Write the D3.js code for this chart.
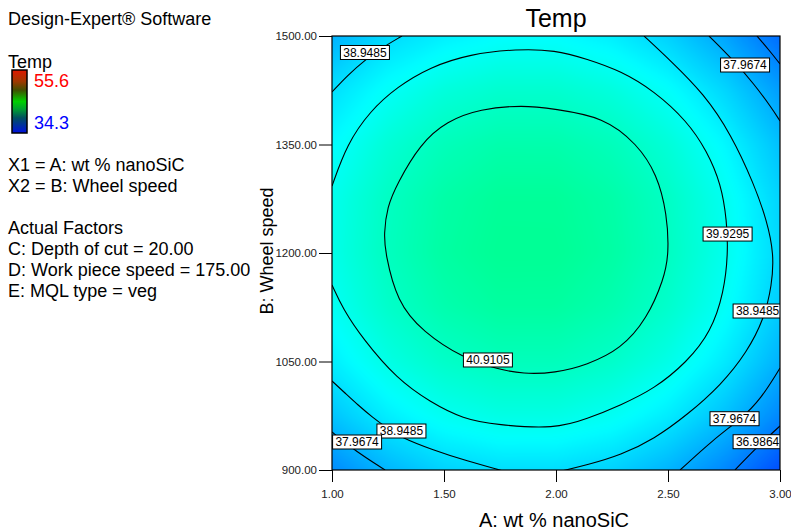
<!DOCTYPE html>
<html>
<head>
<meta charset="utf-8">
<script src="https://cdn.jsdelivr.net/npm/d3@7"></script>
<style>
  body { margin: 0; background: #fff; }
  svg text { font-family: "Liberation Sans", Arial, sans-serif; }
</style>
</head>
<body>
<svg id="chart" width="791" height="530"></svg>
<script>
// factor grid: A = wt % nanoSiC (columns), B = wheel speed (rows, top to bottom)
let gridA = [1.00, 1.25, 1.50, 1.75, 2.00, 2.25, 2.50, 2.75, 3.00];
let gridB = [1500, 1425, 1350, 1275, 1200, 1125, 1050, 975, 900];

let tempGrid = [
  [38.00, 38.85, 39.30, 39.60, 39.59, 39.28, 38.67, 37.76, 36.55],
  [38.97, 39.75, 40.35, 40.64, 40.63, 40.32, 39.71, 38.80, 37.59],
  [39.58, 40.48, 41.07, 41.36, 41.35, 41.05, 40.44, 39.53, 38.32],
  [39.99, 40.88, 41.47, 41.76, 41.76, 41.45, 40.84, 39.93, 38.72],
  [40.07, 40.96, 41.56, 41.85, 41.84, 41.53, 40.92, 40.01, 38.80],
  [39.83, 40.73, 41.32, 41.61, 41.60, 41.29, 40.69, 39.78, 38.57],
  [39.28, 40.17, 40.76, 41.05, 41.05, 40.74, 40.13, 39.22, 38.01],
  [38.40, 39.29, 39.89, 40.18, 40.17, 39.86, 39.25, 38.35, 37.14],
  [37.21, 38.10, 38.69, 38.92, 38.92, 38.67, 38.06, 37.15, 35.94]
];

let tempMin = 34.3, tempMax = 55.6;
let levels = [36.9864, 37.9674, 38.9485, 39.9295, 40.9105];

// contour lines, points as [A, B]
let line40_9105 = [[1.232,1226.3],[1.246,1263.6],[1.290,1295.4],[1.393,1350.7],[1.513,1382.5],[1.661,1399.1],
  [1.853,1404.6],[1.991,1399.1],[2.214,1388.0],[2.362,1350.7],[2.451,1309.2],[2.496,1253.9],[2.504,1198.6],
  [2.482,1164.1],[2.406,1108.8],[2.290,1067.3],[2.138,1045.2],[1.996,1034.1],[1.853,1032.7],[1.737,1039.6],
  [1.585,1054.8],[1.406,1090.8],[1.290,1132.3],[1.237,1201.4]];
let line39_9295 = [[1.000,1292.6],[1.067,1350.7],[1.170,1396.3],[1.290,1429.5],[1.438,1457.1],[1.616,1475.1],
  [1.826,1482.0],[1.996,1480.6],[2.138,1468.2],[2.290,1451.6],[2.438,1424.0],[2.585,1382.5],[2.674,1341.0],
  [2.737,1295.4],[2.763,1244.2],[2.768,1198.6],[2.750,1146.1],[2.692,1090.8],[2.585,1049.3],[2.438,1012.0],
  [2.290,989.9],[2.138,970.5],[1.996,956.7],[1.737,962.2],[1.585,970.5],[1.438,994.0],[1.290,1025.8],
  [1.138,1081.1],[1.049,1122.6],[1.000,1155.8]];
let line38_9485a = [[1.000,1422.6],[1.071,1446.1],[1.147,1466.8],[1.228,1484.8],[1.3125,1500]];
let line38_9485b = [[1.000,1023.0],[1.058,1006.5],[1.116,989.9],[1.179,973.3],[1.246,958.1],[1.304,945.6],
  [1.451,927.6],[1.603,912.4],[1.760,899]];
let line38_9485c = [[2.393,1500],[2.513,1465.4],[2.661,1419.8],[2.781,1364.5],[2.884,1295.4],[2.942,1244.2],
  [2.973,1198.6],[2.964,1155.8],[2.929,1108.8],[2.853,1063.1],[2.737,1017.5],[2.585,976.0],[2.438,942.9],
  [2.290,920.7],[2.138,906.9],[2.030,899]];
let line37_9674a = [[1.000,952.5],[1.071,934.6],[1.152,916.6],[1.237,900]];
let line37_9674b = [[2.683,1500],[2.795,1465.4],[2.884,1433.6],[2.960,1401.8],[3.000,1382.5]];
let line37_9674c = [[3.000,1041.0],[2.915,998.2],[2.826,970.5],[2.705,942.9],[2.554,900]];
let line36_9864a = [[2.897,1500],[2.951,1480.6],[3.000,1461.3]];
let line36_9864b = [[3.000,960.8],[2.897,931.8],[2.799,900]];

// contour labels: [level, A, B]
let labelPoints = [
  [38.9485, 1.147, 1477.2], [37.9674, 2.844, 1459.9], [39.9295, 2.766, 1226.2],
  [38.9485, 2.900, 1119.8], [40.9105, 1.696, 1052.1], [38.9485, 1.310, 953.9],
  [37.9674, 1.112, 938.7], [37.9674, 2.797, 970.9], [36.9864, 2.900, 939.1]
];

let ticksA = [1.00, 1.50, 2.00, 2.50, 3.00];
let ticksB = [900, 1050, 1200, 1350, 1500];

let infoLines = ["X1 = A: wt % nanoSiC", "X2 = B: Wheel speed", "",
  "Actual Factors", "C: Depth of cut = 20.00", "D: Work piece speed = 175.00", "E: MQL type = veg"];

let svg = d3.select("#chart");

let x = d3.scaleLinear().domain([1, 3]).range([332, 780]);
let y = d3.scaleLinear().domain([900, 1500]).range([470, 36]);
let idxA = d3.scaleLinear().domain([0, gridA.length - 1]).range([gridA[0], gridA[gridA.length - 1]]);
let idxB = d3.scaleLinear().domain([0, gridB.length - 1]).range([gridB[0], gridB[gridB.length - 1]]);

let span = (tempMax - tempMin) / 4;
let color = d3.scaleLinear()
  .domain([tempMin, tempMin + span, tempMin + 2 * span, tempMin + 3 * span, tempMax])
  .range(["#0000ff", "#00ffff", "#00ff00", "#ffff00", "#ff0000"]);

let defs = svg.append("defs");
defs.append("clipPath").attr("id", "plotClip")
  .append("rect")
  .attr("x", x(1)).attr("y", y(1500))
  .attr("width", x(3) - x(1)).attr("height", y(900) - y(1500));
defs.append("filter").attr("id", "soften")
  .attr("x", "-10%").attr("y", "-10%").attr("width", "120%").attr("height", "120%")
  .append("feGaussianBlur").attr("stdDeviation", 4);

// shaded response surface
let thresholds = d3.range(35.6, 42.0, 0.05);
let bands = d3.contours()
  .size([gridA.length, gridB.length])
  .thresholds(thresholds)(tempGrid.flat());

let toPlot = d3.geoTransform({
  point: function(px, py) {
    this.stream.point(x(idxA(px - 0.5)), y(idxB(py - 0.5)));
  }
});
let bandPath = d3.geoPath(toPlot);

let plot = svg.append("g").attr("clip-path", "url(#plotClip)");
plot.append("g").attr("filter", "url(#soften)").selectAll("path")
  .data(bands).enter()
  .append("path")
  .attr("d", bandPath)
  .attr("fill", d => color(d.value + 0.025));

// contour lines
let contourLines = [
  {pts: line40_9105, closed: true},
  {pts: line39_9295}, {pts: line38_9485a}, {pts: line38_9485b}, {pts: line38_9485c},
  {pts: line37_9674a}, {pts: line37_9674b}, {pts: line37_9674c},
  {pts: line36_9864a}, {pts: line36_9864b}
];
let openLine = d3.line().x(d => x(d[0])).y(d => y(d[1])).curve(d3.curveBasis);
let closedLine = d3.line().x(d => x(d[0])).y(d => y(d[1])).curve(d3.curveBasisClosed);

plot.append("g").selectAll("path")
  .data(contourLines).enter()
  .append("path")
  .attr("d", d => d.closed ? closedLine(d.pts) : openLine(d.pts))
  .attr("fill", "none")
  .attr("stroke", "#000")
  .attr("stroke-width", 1.1);

// contour labels
let labels = plot.append("g").selectAll("g")
  .data(labelPoints).enter()
  .append("g")
  .attr("transform", d => "translate(" + x(d[1]) + "," + y(d[2]) + ")");
labels.append("rect")
  .attr("x", -24.5).attr("y", -7)
  .attr("width", 49).attr("height", 14)
  .attr("fill", "#fff").attr("stroke", "#000").attr("stroke-width", 1);
labels.append("text")
  .attr("text-anchor", "middle")
  .attr("dy", "0.36em")
  .attr("font-size", "12px")
  .attr("fill", "#000")
  .text(d => d[0].toFixed(4));

// plot frame
svg.append("rect")
  .attr("x", x(1)).attr("y", y(1500))
  .attr("width", x(3) - x(1)).attr("height", y(900) - y(1500))
  .attr("fill", "none").attr("stroke", "#000").attr("stroke-width", 1.2);

// axes
let axisX = d3.axisBottom(x).tickValues(ticksA).tickFormat(d3.format(".2f"))
  .tickSizeInner(12).tickSizeOuter(0).tickPadding(8);
let axisY = d3.axisLeft(y).tickValues(ticksB).tickFormat(d3.format(".2f"))
  .tickSizeInner(13).tickSizeOuter(0).tickPadding(2);

let gx = svg.append("g").attr("transform", "translate(0," + y(900) + ")").call(axisX);
let gy = svg.append("g").attr("transform", "translate(" + x(1) + ",0)").call(axisY);
[gx, gy].forEach(g => {
  g.select(".domain").remove();
  g.selectAll(".tick line").attr("stroke", "#000");
  g.selectAll(".tick text").attr("font-size", "11.5px").attr("fill", "#222")
    .attr("font-family", "'Liberation Sans', Arial, sans-serif");
});

// titles
svg.append("text").attr("x", 556).attr("y", 27)
  .attr("text-anchor", "middle").attr("font-size", "25px").text("Temp");
svg.append("text").attr("x", 554).attr("y", 527)
  .attr("text-anchor", "middle").attr("font-size", "20px").text("A: wt % nanoSiC");
svg.append("text").attr("transform", "translate(273,251) rotate(-90)")
  .attr("text-anchor", "middle").attr("font-size", "18px").text("B: Wheel speed");

// left info panel
svg.append("text").attr("x", 8).attr("y", 25).attr("font-size", "18px").text("Design-Expert® Software");
svg.append("text").attr("x", 8).attr("y", 68).attr("font-size", "18px").text("Temp");

let grad = defs.append("linearGradient").attr("id", "legendGrad")
  .attr("x1", 0).attr("y1", 0).attr("x2", 0).attr("y2", 1);
[["0%", "#e01800"], ["18%", "#a03800"], ["32%", "#405000"], ["50%", "#00d000"],
 ["62%", "#00a030"], ["76%", "#005060"], ["100%", "#0010e0"]].forEach(s => {
  grad.append("stop").attr("offset", s[0]).attr("stop-color", s[1]);
});
svg.append("rect").attr("x", 12).attr("y", 70).attr("width", 15).attr("height", 63)
  .attr("fill", "url(#legendGrad)").attr("stroke", "#000").attr("stroke-width", 1.5);
svg.append("text").attr("x", 34).attr("y", 87).attr("font-size", "18px")
  .attr("fill", "#ff0000").text(tempMax.toFixed(1));
svg.append("text").attr("x", 34).attr("y", 129).attr("font-size", "18px")
  .attr("fill", "#0000ff").text(tempMin.toFixed(1));

svg.append("g").selectAll("text")
  .data(infoLines).enter()
  .append("text")
  .attr("x", 8)
  .attr("y", (d, i) => 171 + i * 21)
  .attr("font-size", "18px")
  .text(d => d);
</script>
</body>
</html>
